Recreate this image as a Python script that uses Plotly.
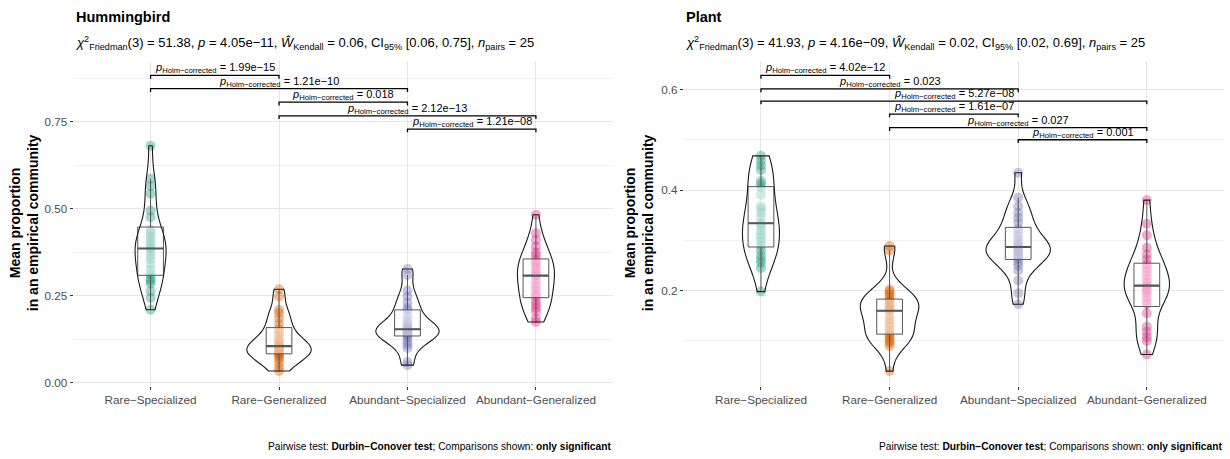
import numpy as np
import plotly.graph_objects as go

W, H = 1230, 459
FONT = "Liberation Sans, Arial, sans-serif"

categories = ["Rare−Specialized", "Rare−Generalized", "Abundant−Specialized", "Abundant−Generalized"]
colors = ["#1B9E77", "#D95F02", "#7570B3", "#E7298A"]

# ---------------- Hummingbird ----------------
hb_rare_spec = [0.210, 0.244, 0.263, 0.285, 0.293, 0.300, 0.312, 0.325, 0.340, 0.355, 0.365, 0.378, 0.386,
                0.392, 0.400, 0.410, 0.420, 0.430, 0.438, 0.476, 0.495, 0.543, 0.565, 0.586, 0.681]
hb_rare_gen = [0.034, 0.045, 0.058, 0.068, 0.075, 0.080, 0.0846, 0.088, 0.092, 0.096, 0.100, 0.103, 0.1056,
               0.110, 0.118, 0.125, 0.135, 0.145, 0.155, 0.170, 0.185, 0.200, 0.210, 0.248, 0.269]
hb_abund_spec = [0.051, 0.060, 0.100, 0.110, 0.118, 0.128, 0.137, 0.140, 0.143, 0.146, 0.149, 0.152, 0.154,
                 0.158, 0.163, 0.170, 0.180, 0.192, 0.208, 0.215, 0.230, 0.248, 0.265, 0.310, 0.327]
hb_abund_gen = [0.175, 0.185, 0.205, 0.215, 0.225, 0.235, 0.248, 0.255, 0.265, 0.275, 0.285, 0.297, 0.308,
                0.312, 0.320, 0.330, 0.338, 0.345, 0.353, 0.365, 0.375, 0.392, 0.410, 0.430, 0.483]
hb_pairs = [(0, 1), (0, 2), (1, 2), (1, 3), (2, 3)]
hb_bracket_y = [0.883, 0.845, 0.806, 0.767, 0.729]
hb_pvals = ["1.99e−15", "1.21e−10", "0.018", "2.12e−13", "1.21e−08"]
hb_yticks = [0.0, 0.25, 0.50, 0.75]
hb_yticklabels = ["0.00", "0.25", "0.50", "0.75"]
hb_yminor = [0.125, 0.375, 0.625, 0.875]
hb_subtitle = ("<i>χ</i><sup>2</sup><sub>Friedman</sub>(3) = 51.38, <i>p</i> = 4.05e−11, "
               "<i>Ŵ</i><sub>Kendall</sub> = 0.06, CI<sub>95%</sub> [0.06, 0.75], <i>n</i><sub>pairs</sub> = 25")

# ---------------- Plant ----------------
pl_rare_spec = [0.198, 0.245, 0.255, 0.262, 0.270, 0.280, 0.289, 0.298, 0.305, 0.312, 0.320, 0.328, 0.334,
                0.345, 0.355, 0.362, 0.368, 0.390, 0.405, 0.412, 0.418, 0.440, 0.449, 0.458, 0.468]
pl_rare_gen = [0.040, 0.090, 0.096, 0.100, 0.105, 0.110, 0.1146, 0.120, 0.128, 0.135, 0.142, 0.150, 0.160,
               0.163, 0.166, 0.170, 0.174, 0.178, 0.1815, 0.188, 0.193, 0.198, 0.202, 0.280, 0.2886]
pl_abund_spec = [0.173, 0.195, 0.220, 0.240, 0.250, 0.257, 0.2636, 0.268, 0.272, 0.276, 0.280, 0.283, 0.2867,
                 0.290, 0.295, 0.300, 0.308, 0.315, 0.3227, 0.335, 0.345, 0.355, 0.368, 0.385, 0.4345]
pl_abund_gen = [0.073, 0.100, 0.108, 0.118, 0.128, 0.155, 0.173, 0.180, 0.188, 0.195, 0.200, 0.205, 0.2098,
                0.215, 0.222, 0.230, 0.238, 0.245, 0.252, 0.262, 0.272, 0.285, 0.310, 0.333, 0.380]
pl_pairs = [(0, 1), (0, 2), (0, 3), (1, 2), (1, 3), (2, 3)]
pl_bracket_y = [0.628, 0.601, 0.577, 0.551, 0.524, 0.500]
pl_pvals = ["4.02e−12", "0.023", "5.27e−08", "1.61e−07", "0.027", "0.001"]
pl_yticks = [0.2, 0.4, 0.6]
pl_yticklabels = ["0.2", "0.4", "0.6"]
pl_yminor = [0.1, 0.3, 0.5]
pl_subtitle = ("<i>χ</i><sup>2</sup><sub>Friedman</sub>(3) = 41.93, <i>p</i> = 4.16e−09, "
               "<i>Ŵ</i><sub>Kendall</sub> = 0.02, CI<sub>95%</sub> [0.02, 0.69], <i>n</i><sub>pairs</sub> = 25")

caption = "Pairwise test: <b>Durbin−Conover test</b>; Comparisons shown: <b>only significant</b>"
ytitle = "<b>Mean proportion<br>in an empirical community</b>"

# layout geometry (pixels)
Y_TOP, Y_BOT = 61.0, 388.4
panels = [
    dict(title="Hummingbird", subtitle=hb_subtitle,
         data=[hb_rare_spec, hb_rare_gen, hb_abund_spec, hb_abund_gen],
         pairs=hb_pairs, by=hb_bracket_y, pv=hb_pvals, yticks=hb_yticks, ylabels=hb_yticklabels,
         yminor=hb_yminor, yrange=[-0.0085, 0.9255], px=(73.5, 613.0), ax="", ytx=24.0),
    dict(title="Plant", subtitle=pl_subtitle,
         data=[pl_rare_spec, pl_rare_gen, pl_abund_spec, pl_abund_gen],
         pairs=pl_pairs, by=pl_bracket_y, pv=pl_pvals, yticks=pl_yticks, ylabels=pl_yticklabels,
         yminor=pl_yminor, yrange=[0.0106, 0.6574], px=(683.8, 1224.0), ax="2", ytx=639.0),
]


def nrd0(v):
    v = np.asarray(v, float)
    sd = v.std(ddof=1)
    q1, q3 = np.percentile(v, [25, 75])
    lo = min(sd, (q3 - q1) / 1.34)
    return 0.9 * lo * len(v) ** (-0.2)


fig = go.Figure()
annotations = []
BOX_W = 0.2
ydom = [1 - Y_BOT / H, 1 - Y_TOP / H]

for pi, p in enumerate(panels):
    xa, ya = "x" + p["ax"], "y" + p["ax"]
    span = p["yrange"][1] - p["yrange"][0]
    for i, vals in enumerate(p["data"]):
        n = len(vals)
        fig.add_trace(go.Scatter(
            x=[i] * n, y=vals, mode="markers", xaxis=xa, yaxis=ya, showlegend=False, zorder=0,
            marker=dict(color=colors[i], size=10, opacity=0.4, line=dict(width=0)), hoverinfo="y"))
        fig.add_trace(go.Box(
            x=[i] * n, y=vals, xaxis=xa, yaxis=ya, showlegend=False, width=BOX_W, zorder=1,
            fillcolor="rgba(255,255,255,0.5)", line=dict(color="#555555", width=1),
            whiskerwidth=0, boxpoints="outliers", marker=dict(opacity=0, size=1), quartilemethod="linear"))
        fig.add_trace(go.Violin(
            x=[i] * n, y=vals, xaxis=xa, yaxis=ya, showlegend=False, zorder=2,
            scalegroup="panel%d" % pi, scalemode="width", spanmode="hard", bandwidth=nrd0(vals),
            fillcolor="rgba(0,0,0,0)", line=dict(color="#1a1a1a", width=1.1), points=False,
            box_visible=False, meanline_visible=False, hoverinfo="skip"))
        med = float(np.median(vals))
        fig.add_trace(go.Scatter(
            x=[i - BOX_W / 2, i + BOX_W / 2], y=[med, med], mode="lines", xaxis=xa, yaxis=ya,
            showlegend=False, zorder=3, line=dict(color="#555555", width=2.2), hoverinfo="skip"))
    tip = 0.01 * span
    for (a, b), yb, pv in zip(p["pairs"], p["by"], p["pv"]):
        fig.add_trace(go.Scatter(
            x=[a, a, b, b], y=[yb - tip, yb, yb, yb - tip], mode="lines", xaxis=xa, yaxis=ya,
            showlegend=False, zorder=4, line=dict(color="black", width=1.3), hoverinfo="skip"))
        annotations.append(dict(
            x=(a + b) / 2, y=yb, xref=xa, yref=ya, xanchor="center", yanchor="bottom", showarrow=False,
            text="<i>p</i><sub>Holm−corrected</sub> = " + pv, font=dict(size=11, color="black", family=FONT),
            yshift=-2))
    x0, x1 = p["px"]
    fig.layout["xaxis" + p["ax"]] = dict(
        domain=[x0 / W, x1 / W], range=[-0.6, 3.6], anchor=ya, tickmode="array",
        tickvals=list(range(len(categories))), ticktext=categories, showgrid=True, gridcolor="#E6E6E6",
        gridwidth=1, zeroline=False, showline=False, ticks="outside", ticklen=3, tickcolor="#333333",
        tickfont=dict(size=11.7, color="#4D4D4D", family=FONT), fixedrange=True)
    fig.layout["yaxis" + p["ax"]] = dict(
        domain=ydom, range=p["yrange"], anchor=xa, tickmode="array", tickvals=p["yticks"],
        ticktext=p["ylabels"], showgrid=True, gridcolor="#E6E6E6", gridwidth=1, zeroline=False,
        showline=False, ticks="outside", ticklen=3, tickcolor="#333333",
        tickfont=dict(size=11.7, color="#4D4D4D", family=FONT),
        minor=dict(tickmode="array", tickvals=p["yminor"], showgrid=True, gridcolor="#F0F0F0",
                   gridwidth=1, ticks=""), fixedrange=True)
    annotations.append(dict(x=x0 / W, y=1 - 17 / H, xref="paper", yref="paper", xanchor="left",
                            yanchor="middle", showarrow=False, text="<b>" + p["title"] + "</b>",
                            font=dict(size=14.5, color="black", family=FONT)))
    annotations.append(dict(x=x0 / W, y=1 - 43 / H, xref="paper", yref="paper", xanchor="left",
                            yanchor="middle", showarrow=False, text=p["subtitle"],
                            font=dict(size=13, color="black", family=FONT)))
    annotations.append(dict(x=p["ytx"] / W, y=1 - ((Y_TOP + Y_BOT) / 2) / H, xref="paper", yref="paper",
                            xanchor="center", yanchor="middle", showarrow=False, text=ytitle, textangle=-90,
                            font=dict(size=14, color="black", family=FONT)))
    annotations.append(dict(x=x1 / W, y=1 - 449 / H, xref="paper", yref="paper", xanchor="right",
                            yanchor="middle", showarrow=False, text=caption,
                            font=dict(size=10.2, color="black", family=FONT)))

fig.update_layout(
    width=W, height=H, margin=dict(l=0, r=0, t=0, b=0), paper_bgcolor="white", plot_bgcolor="white",
    showlegend=False, violinmode="overlay", violingap=0.5, violingroupgap=0, boxmode="overlay",
    annotations=annotations, font=dict(family=FONT))

fig.write_html("out.html")
